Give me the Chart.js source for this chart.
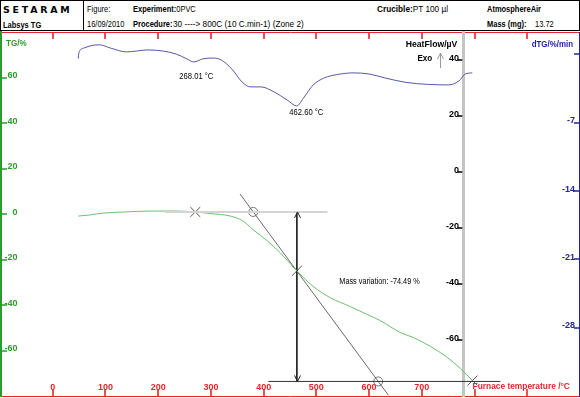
<!DOCTYPE html>
<html><head><meta charset="utf-8">
<script src="https://cdn.jsdelivr.net/npm/chart.js@4.4.1/dist/chart.umd.min.js"></script>
<style>
html,body{margin:0;padding:0;background:#fff;}
#wrap{position:relative;width:580px;height:398px;overflow:hidden;background:#fff;}
#hdr{position:absolute;left:0;top:0;width:580px;height:31px;box-sizing:border-box;border:1px solid #000;font-family:'Liberation Sans',Arial,sans-serif;font-size:8.5px;color:#000;}
#hdr .sep{position:absolute;left:82px;top:0;width:0;height:29px;border-left:1px solid #000;}
#hdr span{position:absolute;white-space:nowrap;line-height:10px;transform:scaleX(0.88);transform-origin:0 50%;}
#hdr b{font-weight:bold;}
#hdr #logo{font-family:'DejaVu Sans',sans-serif;font-weight:bold;font-size:9px;letter-spacing:2.6px;transform:scaleX(1.05);}
canvas{position:absolute;left:0;top:31px;}
</style></head>
<body><div id="wrap">
<div id="hdr">
<div class="sep"></div>
<span id="logo" style="left:2px;top:4px">SETARAM</span>
<span style="left:2px;top:19px"><b>Labsys TG</b></span>
<span style="left:86px;top:3px">Figure:</span>
<span style="left:132px;top:3px"><b>Experiment:</b>0PVC</span>
<span style="left:86px;top:18px">16/09/2010</span>
<span style="left:132px;top:18px"><b>Procedure:</b></span>
<span style="left:172px;top:18px;transform:scaleX(0.97)">30 ----&gt; 800C (10 C.min-1) (Zone 2)</span>
<span style="left:376px;top:3px;transform:scaleX(0.97)"><b>Crucible:</b>PT 100 µl</span>
<span style="left:486px;top:3px"><b>AtmosphereAir</b></span>
<span style="left:486px;top:18px"><b>Mass (mg):</b></span>
<span style="left:534px;top:18px">13.72</span>
</div>
<canvas id="c" width="580" height="367"></canvas>
</div>
<script>
// ---- tick values / labels ----
const xTickValues = [0,100,200,300,400,500,600,700,800,900];
const xTickLabels = ['0','100','200','300','400','500','600','700','',''];
const tgTickValues = [60,40,20,0,-20,-40,-60];
const hfTickValues = [40,20,0,-20,-40,-60];
const dtgTickValues = [0,-7,-14,-21,-28];
const dtgTickLabels = ['','-7','-14','-21','-28'];

// ---- TG curve (temperature °C, mass %) ----
const tgTemp = [48.4,71.1,95.8,137.5,184.9,236.2,270.4,298.9,336.8,359.6,380.5,407,431.7,463,494.3,526.5,564.5,596.7,621.4,659.3,684,716.3,748.5,773.1,796];
const tgMass = [-0.9,-0.4,0.4,0.9,1.3,1.3,0.9,0.2,-0.9,-2.9,-7.0,-11.8,-17.1,-25.0,-31.9,-36.8,-40.7,-44.2,-46.9,-52.1,-54.3,-58.2,-63.1,-67.9,-73.2];

// ---- HeatFlow curve (temperature °C, µV) ----
const hfTemp = [48.4,49.5,59.7,74.2,89.2,109.1,139.4,159.3,179.2,209.6,234.3,254.4,267.4,284.5,304.4,319.6,339.5,359.4,374.6,394.5,419.8,444.8,462.6,477,494.1,515,539.6,569.9,600.3,629.9,670.1,710.4,750.4,770.3,782.4,795.7];
const hfSignal = [40.5,42.5,44.3,45.2,45.4,44.3,42.9,43.2,43.6,43.2,42.1,40.4,39.3,40.4,40.7,40.0,36.8,32.1,30.4,30.4,28.6,25.7,23.6,26.8,31.1,33.6,34.8,35.4,35.0,33.6,32.0,31.3,31.1,32.5,35.0,35.4];

// ---- mass-variation construction ----
const baselineTemp = [213,521];   const baselineMass = [0.9,0.9];
const finalTemp = [409,849];      const finalMass = [-73.6,-73.6];
const tangentTemp = [355.2,636.8];const tangentMass = [8.8,-79.7];
const stepTemp = [463,463];       const stepMass = [0.9,-73.6];
const circleTemp = [380.3,617.4]; const circleMass = [0.9,-73.6];
const crossTemp = [270.4,463,796];const crossMass = [0.9,-25.0,-73.2];

// ---- annotations ----
const peakLabels = ['268.01 °C','462.60 °C'];
const peakLabelTemp = [240,448.6];
const peakLabelSignal = [33.9,21.1];
const massText = 'Mass variation: -74.49 %';
const massTextTemp = 543.5, massTextMass = -29.9;
const titleTG = 'TG/%', titleHF = 'HeatFlow/µV', titleD = 'dTG/%/min', titleX = 'Furnace temperature /°C', exoText = 'Exo';

// ---- axis ranges and axis positions ----
const xMin = -100, xMax = 1000;
const tgMin = -80, tgMax = 80;
const hfMin = -80, hfMax = 50;
const dMin = -35, dMax = 2.3;
const tgAxisAt = -98.1, tgLabelAt = -66.8;   // °C
const hfAxisAt = 778.7, hfLabelAt = 770.5;   // °C
const dAxisAt = 998.5, dLabelAt = 990.5;     // °C

const RED = '#e3262b', GREEN = '#2b9b2b', BLUE = '#23239e';
const FONT = "'Liberation Sans',Arial,sans-serif";
const tickFont = {family: FONT, size: 9, weight: 'bold'};

const pts = (t, v) => t.map((x, i) => ({x: x, y: v[i]}));
const setTicks = arr => s => { s.ticks = arr.map(v => ({value: v})); };
const noPad = s => { s.paddingTop = 0; s.paddingBottom = 0; s.paddingLeft = 0; s.paddingRight = 0; };

function sText(ctx, txt, x, y, sc) {
  ctx.save(); ctx.translate(x, y); ctx.scale(sc, 1); ctx.fillText(txt, 0, 0); ctx.restore();
}

// inward tick marks, placed with each scale's own tick list
const tickMarks = {
  id: 'tickMarks',
  afterDraw(chart) {
    const {ctx, chartArea: ca} = chart;
    const sx = chart.scales.x, sTG = chart.scales.yTG, sHF = chart.scales.yHF, sD = chart.scales.yD;
    const hfx = sx.getPixelForValue(hfAxisAt);
    ctx.save();
    ctx.lineWidth = 1.6;
    ctx.strokeStyle = RED;
    ctx.beginPath();
    xTickValues.forEach(v => {
      const X = Math.round(sx.getPixelForValue(v));
      ctx.moveTo(X, ca.top); ctx.lineTo(X, ca.top + 7);
      ctx.moveTo(X, ca.bottom - 7); ctx.lineTo(X, ca.bottom);
    });
    ctx.stroke();
    ctx.strokeStyle = GREEN;
    ctx.beginPath();
    tgTickValues.forEach(v => { const Y = Math.round(sTG.getPixelForValue(v)); ctx.moveTo(ca.left + 1, Y); ctx.lineTo(ca.left + 7, Y); });
    ctx.stroke();
    ctx.strokeStyle = '#000';
    ctx.beginPath();
    hfTickValues.forEach(v => { const Y = Math.round(sHF.getPixelForValue(v)); ctx.moveTo(hfx - 6, Y); ctx.lineTo(hfx - 1, Y); });
    ctx.stroke();
    ctx.strokeStyle = BLUE;
    ctx.beginPath();
    dtgTickValues.forEach(v => { const Y = Math.round(sD.getPixelForValue(v)); ctx.moveTo(ca.right - 6, Y); ctx.lineTo(ca.right - 1, Y); });
    ctx.stroke();
    ctx.restore();
  }
};

const decor = {
  id: 'decor',
  afterDatasetsDraw(chart) {
    const {ctx, chartArea: ca} = chart;
    const sx = chart.scales.x, sTG = chart.scales.yTG, sHF = chart.scales.yHF;
    const hfx = sx.getPixelForValue(hfAxisAt);
    ctx.save();
    ctx.textBaseline = 'middle';
    ctx.font = 'bold 9px ' + FONT;
    ctx.fillStyle = GREEN; ctx.textAlign = 'left';
    sText(ctx, titleTG, ca.left + 6, ca.top + 12, 0.9);
    ctx.fillStyle = '#000'; ctx.textAlign = 'right';
    sText(ctx, titleHF, hfx - 6, ca.top + 13, 0.96);
    ctx.fillStyle = BLUE;
    sText(ctx, titleD, ca.right - 7, ca.top + 13, 0.88);
    ctx.fillStyle = RED; ctx.textAlign = 'left';
    sText(ctx, titleX, sx.getPixelForValue(800) - 2, ca.bottom - 9.5, 0.93);
    ctx.fillStyle = '#000'; ctx.textAlign = 'right';
    sText(ctx, exoText, hfx - 31, ca.top + 27, 0.9);
    ctx.strokeStyle = '#999'; ctx.lineWidth = 1;
    const ax = Math.round(hfx - 23) + 0.5;
    ctx.beginPath();
    ctx.moveTo(ax, ca.top + 36); ctx.lineTo(ax, ca.top + 21);
    ctx.moveTo(ax - 3, ca.top + 27); ctx.lineTo(ax, ca.top + 21); ctx.lineTo(ax + 3, ca.top + 27);
    ctx.stroke();
    ctx.font = '8.5px ' + FONT; ctx.fillStyle = '#000'; ctx.textAlign = 'left';
    peakLabels.forEach((t, i) => sText(ctx, t, sx.getPixelForValue(peakLabelTemp[i]), sHF.getPixelForValue(peakLabelSignal[i]), 0.9));
    sText(ctx, massText, sx.getPixelForValue(massTextTemp), sTG.getPixelForValue(massTextMass), 0.86);
    ctx.strokeStyle = '#222';
    const px = Math.round(sx.getPixelForValue(stepTemp[0])) + 0.5;
    const yT = sTG.getPixelForValue(stepMass[0]), yB = sTG.getPixelForValue(stepMass[1]);
    ctx.beginPath();
    ctx.moveTo(px - 3, yT + 6); ctx.lineTo(px, yT); ctx.lineTo(px + 3, yT + 6);
    ctx.moveTo(px - 3, yB - 6); ctx.lineTo(px, yB); ctx.lineTo(px + 3, yB - 6);
    ctx.stroke();
    ctx.restore();
  }
};

function vAxis(at, min, max, ticks, borderColor, borderWidth) {
  return {
    type: 'linear', position: {x: at}, min: min, max: max,
    afterBuildTicks: setTicks(ticks), afterFit: noPad,
    grid: {display: false},
    border: {display: true, color: borderColor, width: borderWidth},
    ticks: {display: false}
  };
}
function vLabels(at, min, max, ticks, labels, color, offset) {
  return {
    type: 'linear', position: {x: at}, min: min, max: max,
    afterBuildTicks: setTicks(ticks), afterFit: noPad,
    grid: {display: false}, border: {display: false},
    ticks: {color: color, font: tickFont, padding: 0, labelOffset: offset, autoSkip: false, callback: (v, i) => labels[i]}
  };
}

new Chart(document.getElementById('c'), {
  type: 'line',
  data: {datasets: [
    {data: pts(baselineTemp, baselineMass), yAxisID: 'yTG', borderColor: '#d4d4d4', borderWidth: 2, pointRadius: 0},
    {data: pts(hfTemp, hfSignal), yAxisID: 'yHF', borderColor: '#5656a8', borderWidth: 1, pointRadius: 0, cubicInterpolationMode: 'monotone'},
    {data: pts(tgTemp, tgMass), yAxisID: 'yTG', borderColor: '#6cbf6c', borderWidth: 1, pointRadius: 0, cubicInterpolationMode: 'monotone'},
    {data: pts(finalTemp, finalMass), yAxisID: 'yTG', borderColor: '#333', borderWidth: 1, pointRadius: 0},
    {data: pts(tangentTemp, tangentMass), yAxisID: 'yTG', borderColor: '#444', borderWidth: 0.8, pointRadius: 0},
    {data: pts(stepTemp, stepMass), yAxisID: 'yTG', borderColor: '#222', borderWidth: 1, pointRadius: 0},
    {data: pts(circleTemp, circleMass), yAxisID: 'yTG', showLine: false, pointStyle: 'circle', pointRadius: 4.5, borderColor: '#777', backgroundColor: 'rgba(0,0,0,0)', borderWidth: 1},
    {data: pts(crossTemp, crossMass), yAxisID: 'yTG', showLine: false, pointStyle: 'crossRot', pointRadius: 7, borderColor: '#555', borderWidth: 1}
  ]},
  options: {
    responsive: false, animation: false, devicePixelRatio: 1,
    layout: {autoPadding: false, padding: {left: 0, right: 0, top: 1, bottom: 2}},
    plugins: {legend: {display: false}, tooltip: {enabled: false}},
    elements: {point: {radius: 0}},
    scales: {
      x: {
        type: 'linear', position: 'bottom', min: xMin, max: xMax,
        afterBuildTicks: setTicks(xTickValues), afterFit: s => { noPad(s); s.height = 0; },
        grid: {drawOnChartArea: false, drawTicks: false},
        border: {display: true, color: RED, width: 1},
        ticks: {mirror: true, padding: 3, color: RED, font: tickFont, autoSkip: false, maxRotation: 0, minRotation: 0,
                callback: (v, i) => xTickLabels[i]}
      },
      xTop: {
        type: 'linear', position: {yTG: tgMax}, min: xMin, max: xMax,
        afterBuildTicks: setTicks(xTickValues), afterFit: noPad,
        grid: {display: false},
        border: {display: true, color: RED, width: 1},
        ticks: {display: false}
      },
      yTG: vAxis(tgAxisAt, tgMin, tgMax, tgTickValues, GREEN, 2),
      yTGlab: vLabels(tgLabelAt, tgMin, tgMax, tgTickValues, tgTickValues.map(String), GREEN, -1.5),
      yHF: vAxis(hfAxisAt, hfMin, hfMax, hfTickValues, '#c4c4c4', 3),
      yHFlab: vLabels(hfLabelAt, hfMin, hfMax, hfTickValues, hfTickValues.map(String), '#000', -1.5),
      yD: vAxis(dAxisAt, dMin, dMax, dtgTickValues, BLUE, 1),
      yDlab: vLabels(dLabelAt, dMin, dMax, dtgTickValues, dtgTickLabels, BLUE, -2)
    }
  },
  plugins: [decor, tickMarks]
});
</script>
</body></html>
